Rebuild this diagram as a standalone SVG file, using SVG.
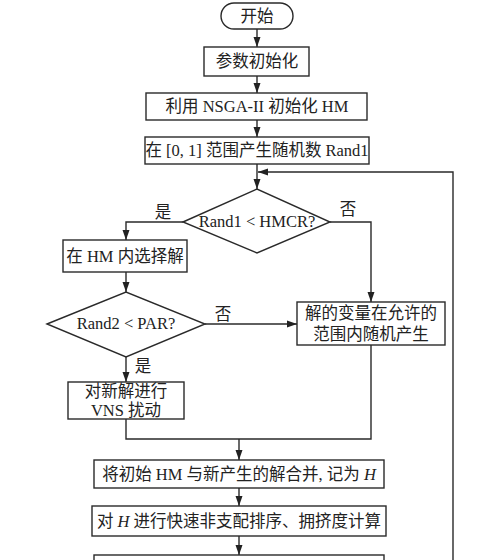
<svg xmlns="http://www.w3.org/2000/svg" width="500" height="560" viewBox="0 0 500 560">
<style>
.s{fill:#fff;stroke:#2a2a2a;stroke-width:1.4}
.c{fill:none;stroke:#2a2a2a;stroke-width:1.4}
text{font-family:"Liberation Serif","Noto Sans CJK SC",serif;font-size:16.5px;fill:#222;text-anchor:middle;dominant-baseline:central}
</style>
<defs>
<marker id="a" markerUnits="userSpaceOnUse" markerWidth="10" markerHeight="10" viewBox="0 0 10 10" refX="10" refY="5" orient="auto">
<path d="M0,1.5 L10,5 L0,8.5 Z" fill="#222"/>
</marker>
</defs>
<rect width="500" height="560" fill="#fff"/>
<g id="connectors">
<path class="c" d="M257,29 V47" marker-end="url(#a)"/>
<path class="c" d="M257,76 V93" marker-end="url(#a)"/>
<path class="c" d="M257,120 V137" marker-end="url(#a)"/>
<path class="c" d="M257,164 V189" marker-end="url(#a)"/>
<path class="c" d="M453,560 V172 H258" marker-end="url(#a)"/>
<path class="c" d="M183,222 H126 V240" marker-end="url(#a)"/>
<path class="c" d="M330,222 H371 V302" marker-end="url(#a)"/>
<path class="c" d="M126,272 V292" marker-end="url(#a)"/>
<path class="c" d="M205,324 H297" marker-end="url(#a)"/>
<path class="c" d="M126,357 V382" marker-end="url(#a)"/>
<path class="c" d="M126,419 V439 H371 V345"/>
<path class="c" d="M239,439 V460" marker-end="url(#a)"/>
<path class="c" d="M239,488 V506" marker-end="url(#a)"/>
<path class="c" d="M239,536 V555" marker-end="url(#a)"/>
<text x="163" y="212">是</text>
<text x="348" y="209">否</text>
<text x="223" y="314">否</text>
<text x="143" y="366">是</text>
</g>
<g id="start"><rect class="s" x="221" y="3" width="72" height="26" rx="13"/><text x="257" y="16">开始</text></g>
<g id="init"><rect class="s" x="204" y="47" width="105" height="29"/><text x="257" y="61.5">参数初始化</text></g>
<g id="nsga"><rect class="s" x="146" y="93" width="221" height="27"/><text x="257" y="106.5">利用 NSGA-II 初始化 HM</text></g>
<g id="rand1"><rect class="s" x="145" y="137" width="224" height="27"/><text x="257" y="150.5">在 [0, 1] 范围产生随机数 Rand1</text></g>
<g id="d1"><path class="s" d="M183,222 L257,189 L330,222 L257,253 Z"/><text x="257" y="221">Rand1 &lt; HMCR?</text></g>
<g id="select"><rect class="s" x="63" y="240" width="124" height="32"/><text x="125" y="256">在 HM 内选择解</text></g>
<g id="d2"><path class="s" d="M47,324 L126,292 L205,324 L126,357 Z"/><text x="126" y="323.5">Rand2 &lt; PAR?</text></g>
<g id="random"><rect class="s" x="297" y="302" width="148" height="43"/><text x="371" y="313">解的变量在允许的</text><text x="371" y="334">范围内随机产生</text></g>
<g id="vns"><rect class="s" x="68" y="382" width="116" height="37"/><text x="126" y="391.5">对新解进行</text><text x="126" y="410">VNS 扰动</text></g>
<g id="merge"><rect class="s" x="94" y="460" width="290" height="28"/><text x="239" y="474">将初始 HM 与新产生的解合并, 记为 <tspan font-style="italic">H</tspan></text></g>
<g id="sort"><rect class="s" x="92" y="506" width="294" height="30"/><text x="239" y="521">对 <tspan font-style="italic">H</tspan> 进行快速非支配排序、拥挤度计算</text></g>
<g id="next"><rect class="s" x="94" y="555" width="290" height="20"/></g>
</svg>
